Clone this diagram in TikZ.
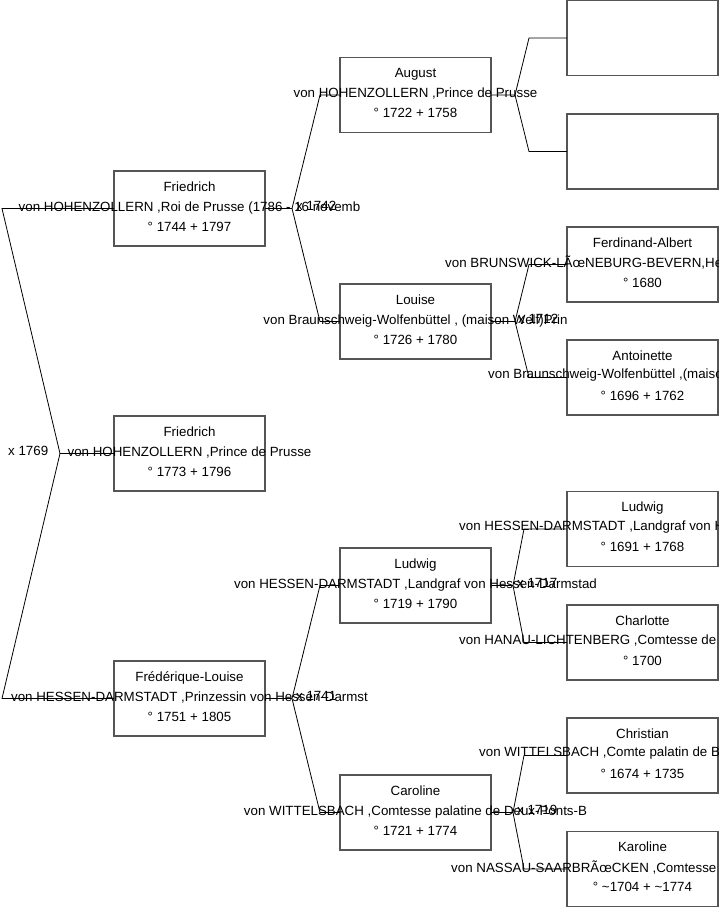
\documentclass[tikz,border=0pt]{standalone}
\usepackage{fontspec}
\setmainfont{Liberation Sans}
\definecolor{bordacinza}{RGB}{85,85,85}

\begin{document}
\begin{tikzpicture}[x=1pt,y=-1pt,
  caixa/.style={draw=bordacinza,line width=1.1pt,minimum width=151pt,minimum height=75pt,inner sep=0pt,outer sep=0pt},
  texto/.style={align=center,font=\fontsize{13.33}{20}\selectfont,inner sep=0pt,yshift=2pt},
  linha/.style={font=\fontsize{13.33}{20}\selectfont,inner sep=0pt,anchor=west},
  liga/.style={line width=0.8pt}]
\useasboundingbox (0,0) rectangle (719,908);
% Caixas
\node[caixa] (fw) at (189.5,208.5) {};
\node[caixa] (fr) at (189.5,453.5) {};
\node[caixa] (fl) at (189.5,698.5) {};
\node[caixa] (aug) at (415.5,95) {};
\node[caixa] (lou) at (415.5,321.5) {};
\node[caixa] (lud) at (415.5,585.5) {};
\node[caixa] (car) at (415.5,812.5) {};
\node[caixa] (vz1) at (642.5,38) {};
\node[caixa] (vz2) at (642.5,151.5) {};
\node[caixa] (fa) at (642.5,264.5) {};
\node[caixa] (ant) at (642.5,377.5) {};
\node[caixa] (lud2) at (642.5,529) {};
\node[caixa] (cha) at (642.5,642.5) {};
\node[caixa] (chr) at (642.5,755.5) {};
\node[caixa] (kar) at (642.5,869) {};
% Textos
\node[texto] at (fw) {Friedrich\\von HOHENZOLLERN ,Roi de Prusse (1786 - 16 novemb\\° 1744 + 1797};
\node[texto] at (fr) {Friedrich\\von HOHENZOLLERN ,Prince de Prusse\\° 1773 + 1796};
\node[texto] at (fl) {Frédérique-Louise\\von HESSEN-DARMSTADT ,Prinzessin von Hessen-Darmst\\° 1751 + 1805};
\node[texto] at (aug) {August\\von HOHENZOLLERN ,Prince de Prusse\\° 1722 + 1758};
\node[texto] at (lou) {Louise\\von Braunschweig-Wolfenbüttel , (maison Welf)Prin\\° 1726 + 1780};
\node[texto] at (lud) {Ludwig\\von HESSEN-DARMSTADT ,Landgraf von Hessen-Darmstad\\° 1719 + 1790};
\node[texto] at (car) {Caroline\\von WITTELSBACH ,Comtesse palatine de Deux-Ponts-B\\° 1721 + 1774};
\node[texto] at (fa) {Ferdinand-Albert\\[20pt]° 1680};
\node[linha] at (445,262.5) {von BRUNSWICK-LÃœNEBURG-BEVERN,He};
\node[texto] at (ant) {Antoinette\\[20pt]° 1696 + 1762};
\node[linha] at (488,375.5) {von Braunschweig-Wolfenbüttel ,(maiso};
\node[texto] at (lud2) {Ludwig\\[20pt]° 1691 + 1768};
\node[linha] at (459,527) {von HESSEN-DARMSTADT ,Landgraf von H};
\node[texto] at (cha) {Charlotte\\[20pt]° 1700};
\node[linha] at (459,640.5) {von HANAU-LICHTENBERG ,Comtesse de};
\node[texto] at (chr) {Christian\\[20pt]° 1674 + 1735};
\node[linha] at (479,753.5) {von WITTELSBACH ,Comte palatin de B};
\node[texto] at (kar) {Karoline\\[20pt]° \textasciitilde1704 + \textasciitilde1774};
\node[linha] at (451,867) {von NASSAU-SAARBRÃœCKEN ,Comtesse};
% Casamentos
\node[linha] (m1769) at (8,451) {x 1769};
\node[linha] (m1742) at (296,206) {x 1742};
\node[linha] (m1741) at (296,696) {x 1741};
\node[linha] (m1712) at (518,319) {x 1712};
\node[linha] (m1717) at (517,583) {x 1717};
\node[linha] (m1719) at (517,810) {x 1719};
% Ligacoes
\coordinate (k0) at ([xshift=-54pt]fr.west);
\draw[liga] (fr.west) -- (k0) -- ([xshift=-112pt]fw.west) -- (fw.west);
\draw[liga] (k0) -- ([xshift=-112pt]fl.west) -- (fl.west);
\coordinate (k1) at ([xshift=27pt]fw.east);
\draw[liga] (fw.east) -- (k1) -- ([xshift=-20pt]aug.west) -- (aug.west);
\draw[liga] (k1) -- ([xshift=-20pt]lou.west) -- (lou.west);
\coordinate (k2) at ([xshift=27pt]fl.east);
\draw[liga] (fl.east) -- (k2) -- ([xshift=-20pt]lud.west) -- (lud.west);
\draw[liga] (k2) -- ([xshift=-20pt]car.west) -- (car.west);
\coordinate (k3) at ([xshift=24pt]aug.east);
\draw[liga] (aug.east) -- (k3) -- ([xshift=-38pt]vz1.west) -- (vz1.west);
\draw[liga] (k3) -- ([xshift=-38pt]vz2.west) -- (vz2.west);
\coordinate (k4) at ([xshift=24pt]lou.east);
\draw[liga] (lou.east) -- (k4) -- ([xshift=-38pt]fa.west) -- (fa.west);
\draw[liga] (k4) -- ([xshift=-38pt]ant.west) -- (ant.west);
\coordinate (k5) at ([xshift=22pt]lud.east);
\draw[liga] (lud.east) -- (k5) -- ([xshift=-43pt]lud2.west) -- (lud2.west);
\draw[liga] (k5) -- ([xshift=-43pt]cha.west) -- (cha.west);
\coordinate (k6) at ([xshift=22pt]car.east);
\draw[liga] (car.east) -- (k6) -- ([xshift=-43pt]chr.west) -- (chr.west);
\draw[liga] (k6) -- ([xshift=-43pt]kar.west) -- (kar.west);
\end{tikzpicture}
\end{document}
